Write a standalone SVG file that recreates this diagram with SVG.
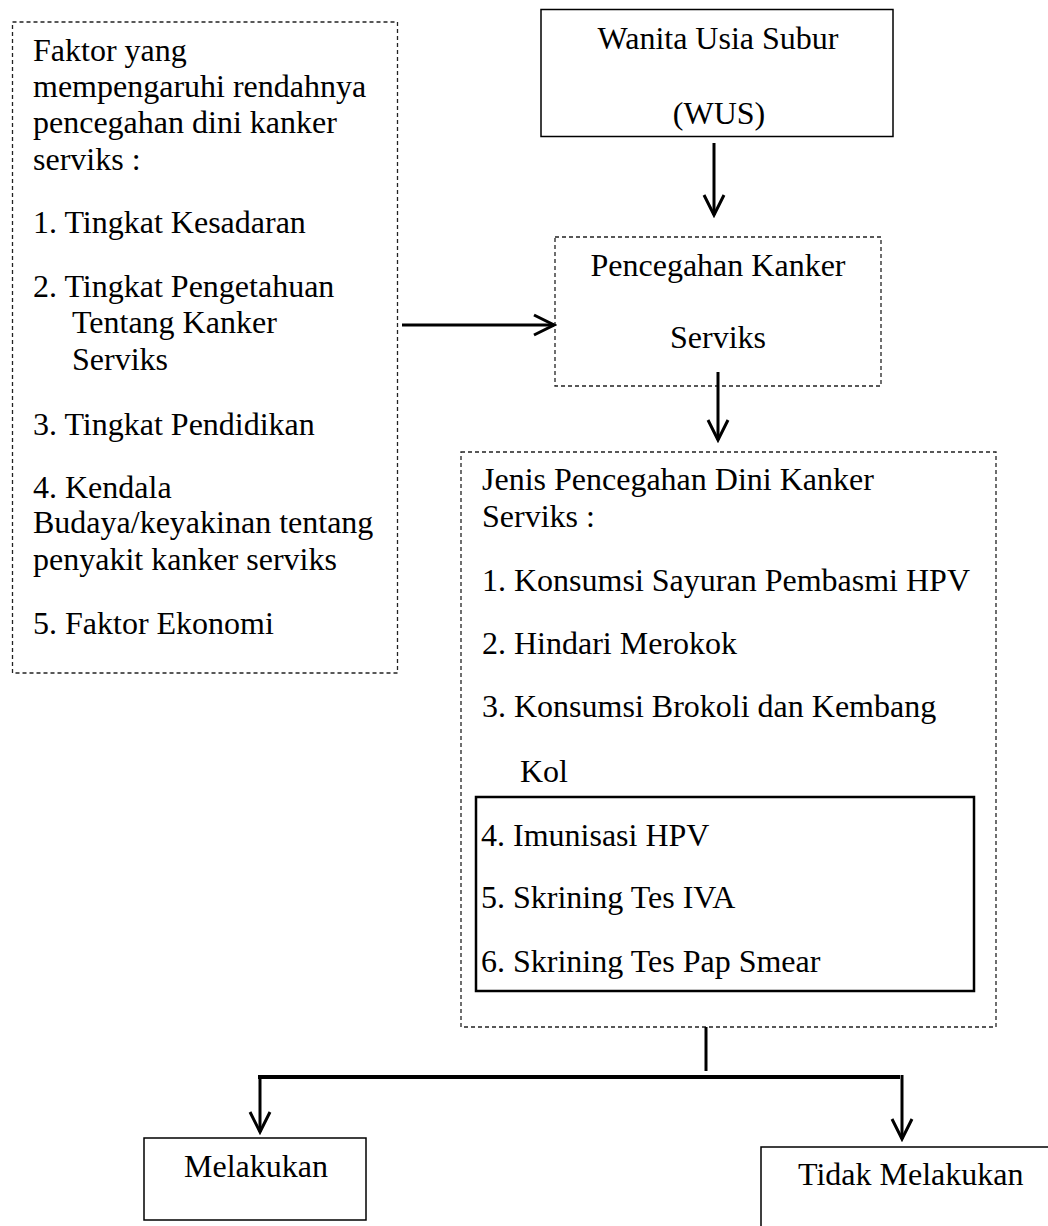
<svg xmlns="http://www.w3.org/2000/svg" width="1048" height="1226" viewBox="0 0 1048 1226">
<style>
text{font-family:"Liberation Serif","Times New Roman",serif;font-size:32px;fill:#000}
.c{text-anchor:middle}
.dash{fill:none;stroke:#222;stroke-width:1.3;stroke-dasharray:4,3}
.solid{fill:#fff;stroke:#000;stroke-width:1.5}
.thick{fill:none;stroke:#000;stroke-width:2.5}
.conn{fill:none;stroke:#000;stroke-width:3}
</style>
<defs>
<marker id="ah" markerUnits="userSpaceOnUse" viewBox="0 0 24 24" markerWidth="24" markerHeight="24" refX="21" refY="12" orient="auto">
<path d="M1,2 L21,12 L1,22" fill="none" stroke="#000" stroke-width="3"/>
</marker>
</defs>
<rect width="1048" height="1226" fill="#fff"/>
<g id="faktor">
<rect class="dash" x="12.5" y="22" width="385" height="651"/>
<text x="33" y="61">Faktor yang</text>
<text x="33" y="97">mempengaruhi rendahnya</text>
<text x="33" y="133">pencegahan dini kanker</text>
<text x="33" y="170">serviks :</text>
<text x="33" y="233">1. Tingkat Kesadaran</text>
<text x="33" y="297">2. Tingkat Pengetahuan</text>
<text x="72" y="333">Tentang Kanker</text>
<text x="72" y="370">Serviks</text>
<text x="33" y="435">3. Tingkat Pendidikan</text>
<text x="33" y="498">4. Kendala</text>
<text x="33" y="533">Budaya/keyakinan tentang</text>
<text x="33" y="570">penyakit kanker serviks</text>
<text x="33" y="634">5. Faktor Ekonomi</text>
</g>
<g id="wus">
<rect class="solid" x="541" y="9.5" width="352" height="127"/>
<text class="c" x="718" y="49">Wanita Usia Subur</text>
<text class="c" x="719" y="124">(WUS)</text>
</g>
<g id="pencegahan">
<rect class="dash" x="555" y="237" width="326" height="149"/>
<text class="c" x="718" y="276">Pencegahan Kanker</text>
<text class="c" x="718" y="348">Serviks</text>
</g>
<g id="jenis">
<rect class="dash" x="461" y="452" width="535" height="575"/>
<text x="482" y="490">Jenis Pencegahan Dini Kanker</text>
<text x="482" y="527">Serviks :</text>
<text x="482" y="591">1. Konsumsi Sayuran Pembasmi HPV</text>
<text x="482" y="654">2. Hindari Merokok</text>
<text x="482" y="717">3. Konsumsi Brokoli dan Kembang</text>
<text x="520" y="782">Kol</text>
</g>
<g id="skrining">
<rect class="thick" x="476" y="797" width="498" height="194"/>
<text x="481" y="846">4. Imunisasi HPV</text>
<text x="481" y="908">5. Skrining Tes IVA</text>
<text x="481" y="972">6. Skrining Tes Pap Smear</text>
</g>
<g id="melakukan">
<rect class="solid" x="144" y="1138" width="222" height="82"/>
<text class="c" x="256" y="1177">Melakukan</text>
</g>
<g id="tidak-melakukan">
<rect class="solid" x="761" y="1147" width="400" height="200"/>
<text x="798" y="1185">Tidak Melakukan</text>
</g>
<g id="connectors">
<line class="conn" x1="714" y1="143" x2="714" y2="215" marker-end="url(#ah)"/>
<line class="conn" x1="402" y1="325" x2="554" y2="325" marker-end="url(#ah)"/>
<line class="conn" x1="718" y1="372" x2="718" y2="440" marker-end="url(#ah)"/>
<line class="conn" x1="706" y1="1027" x2="706" y2="1071"/>
<line x1="258" y1="1077" x2="900" y2="1077" stroke="#000" stroke-width="4"/>
<line class="conn" x1="260" y1="1075" x2="260" y2="1132" marker-end="url(#ah)"/>
<line class="conn" x1="902" y1="1075" x2="902" y2="1139" marker-end="url(#ah)"/>
</g>
</svg>
